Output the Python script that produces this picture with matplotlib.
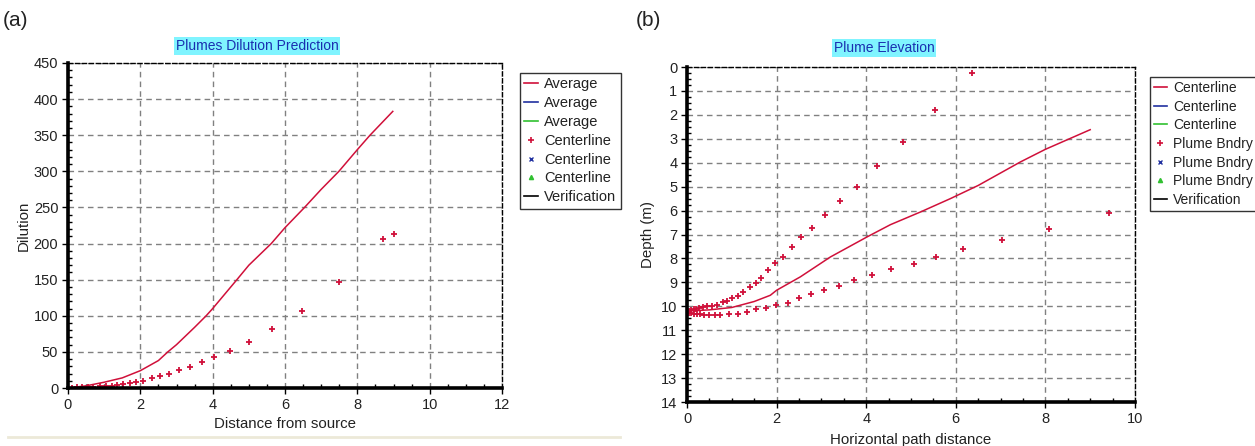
import matplotlib
matplotlib.use("Agg")
import matplotlib.pyplot as plt
from matplotlib.lines import Line2D
from matplotlib.ticker import MultipleLocator

plt.rcParams['font.family'] = ['Liberation Sans', 'DejaVu Sans']

# ---- Panel (a): dilution vs distance from source ----
dil_avg_x = [0.0, 0.5, 1.0, 1.5, 2.0, 2.5, 2.76, 3.0, 3.5, 3.82, 4.0, 4.67, 5.0,
             5.62, 6.0, 6.54, 7.0, 7.49, 8.0, 8.35, 8.98]
dil_avg_y = [0, 3, 8, 14, 24, 38, 50, 60, 84, 100, 110, 150, 170,
             200, 222, 250, 275, 300, 330, 350, 383]

dil_cl_x = [0.10, 0.25, 0.40, 0.55, 0.70, 0.88, 1.06, 1.23, 1.36, 1.53, 1.72, 1.89,
            2.07, 2.31, 2.55, 2.80, 3.06, 3.36, 3.70, 4.05, 4.49, 5.01, 5.64, 6.47,
            7.49, 8.70, 9.02]
dil_cl_y = [0.5, 0.8, 1.0, 1.3, 1.6, 2.2, 2.2, 3.2, 4.6, 6.0, 6.4, 8.3,
            10.0, 14.2, 16.0, 18.8, 24.8, 29.0, 36.3, 43.6, 51.0, 64.0, 81.4, 107.0,
            146.4, 205.7, 213.5]

# ---- Panel (b): plume elevation ----
elev_cl_x = [0.0, 0.5, 1.0, 1.5, 1.86, 2.0, 2.53, 3.2, 4.02, 4.54, 5.21, 5.88,
             6.5, 7.44, 8.0, 9.0]
elev_cl_d = [10.2, 10.15, 10.05, 9.8, 9.54, 9.33, 8.77, 7.94, 7.1, 6.59, 6.06, 5.5,
             4.95, 3.97, 3.44, 2.62]

bnd_up_x = [0.05, 0.10, 0.15, 0.20, 0.27, 0.35, 0.45, 0.56, 0.67, 0.80, 0.89, 1.00,
            1.13, 1.26, 1.41, 1.54, 1.66, 1.81, 1.96, 2.14, 2.34, 2.55, 2.80, 3.09,
            3.42, 3.79, 4.25, 4.83, 5.54, 6.37]
bnd_up_d = [10.20, 10.15, 10.12, 10.10, 10.08, 10.05, 10.00, 9.97, 9.94, 9.82, 9.78, 9.65,
            9.55, 9.40, 9.19, 9.02, 8.80, 8.50, 8.19, 7.94, 7.52, 7.10, 6.71, 6.17,
            5.60, 5.01, 4.14, 3.13, 1.81, 0.24]

bnd_lo_x = [0.05, 0.10, 0.15, 0.22, 0.30, 0.38, 0.48, 0.63, 0.74, 0.94, 1.13, 1.34,
            1.53, 1.77, 1.99, 2.25, 2.50, 2.77, 3.05, 3.39, 3.73, 4.14, 4.55, 5.06,
            5.56, 6.16, 7.03, 8.08, 9.42]
bnd_lo_d = [10.28, 10.30, 10.32, 10.33, 10.34, 10.36, 10.38, 10.38, 10.38, 10.31, 10.31, 10.24,
            10.11, 10.07, 9.94, 9.85, 9.65, 9.50, 9.30, 9.14, 8.91, 8.68, 8.44, 8.22,
            7.94, 7.62, 7.21, 6.75, 6.10]

legend_a = ["Average", "Average", "Average", "Centerline", "Centerline", "Centerline",
            "Verification"]
legend_b = ["Centerline", "Centerline", "Centerline", "Plume Bndry", "Plume Bndry",
            "Plume Bndry", "Verification"]

RED = '#d0103a'
BLUE = '#2030a0'
GREEN = '#30c030'
GRID = '#808080'
TXT = '#222222'
FS = 10.8

W, H = 1255, 446
fig = plt.figure(figsize=(W / 100, H / 100), dpi=100)
fig.patch.set_facecolor('white')


def px_axes(left, top, right, bottom):
    return fig.add_axes([left / W, 1 - bottom / H, (right - left) / W, (bottom - top) / H])


def style_axes(ax):
    ax.grid(True, which='major', color=GRID, linestyle=(0, (4, 3)), linewidth=1.0)
    ax.set_axisbelow(True)
    for s in ('left', 'bottom'):
        ax.spines[s].set_linewidth(2.6)
        ax.spines[s].set_color('black')
    for s in ('top', 'right'):
        ax.spines[s].set_linewidth(1.0)
        ax.spines[s].set_linestyle((0, (3, 2)))
        ax.spines[s].set_color('black')
    ax.tick_params(which='major', direction='out', length=4, width=1, labelsize=10.5,
                   colors='black', labelcolor=TXT, pad=3)
    ax.tick_params(which='minor', direction='in', length=3, width=1, colors='black')


def legend_handles():
    return [
        Line2D([], [], color=RED, lw=1.2),
        Line2D([], [], color=BLUE, lw=1.2),
        Line2D([], [], color=GREEN, lw=1.2),
        Line2D([], [], color=RED, lw=0, marker='+', markersize=4, mew=1.2),
        Line2D([], [], color=BLUE, lw=0, marker='x', markersize=3, mew=1.0),
        Line2D([], [], color=GREEN, lw=0, marker='^', markersize=3),
        Line2D([], [], color='black', lw=1.2),
    ]


def add_legend(labels, x_px, y_px, fs):
    leg = fig.legend(legend_handles(), labels, loc='upper left',
                     bbox_to_anchor=(x_px / W, 1 - y_px / H), frameon=True,
                     fancybox=False, edgecolor='black', fontsize=fs, handlelength=0.9,
                     handletextpad=0.45, labelspacing=0.33, borderpad=0.3,
                     borderaxespad=0)
    leg.get_frame().set_linewidth(1.0)
    for t in leg.get_texts():
        t.set_color(TXT)
    return leg


def title_box(text, x_px, y_px):
    fig.text(x_px / W, 1 - y_px / H, text, ha='center', va='center', fontsize=10,
             color='#1a2fb0',
             bbox=dict(boxstyle='square,pad=0.15', facecolor='#80f4ff', edgecolor='none'))


# Panel (a)
ax1 = px_axes(68, 63, 502, 388)
ax1.plot(dil_avg_x, dil_avg_y, color=RED, lw=1.1)
ax1.plot(dil_cl_x, dil_cl_y, color=RED, lw=0, marker='+', markersize=4.5, mew=1.3)
ax1.set_xlim(0, 12)
ax1.set_ylim(0, 450)
ax1.xaxis.set_major_locator(MultipleLocator(2))
ax1.xaxis.set_minor_locator(MultipleLocator(0.5))
ax1.yaxis.set_major_locator(MultipleLocator(50))
ax1.yaxis.set_minor_locator(MultipleLocator(10))
style_axes(ax1)
ax1.set_xlabel("Distance from source", fontsize=FS, color=TXT, labelpad=4)
ax1.set_ylabel("Dilution", fontsize=FS, color=TXT, labelpad=2)
title_box("Plumes Dilution Prediction", 257, 46)
add_legend(legend_a, 520, 73, 10.5)

# Panel (b)
ax2 = px_axes(687, 67, 1135, 402)
ax2.plot(elev_cl_x, elev_cl_d, color=RED, lw=1.1)
ax2.plot(bnd_up_x, bnd_up_d, color=RED, lw=0, marker='+', markersize=4.5, mew=1.3)
ax2.plot(bnd_lo_x, bnd_lo_d, color=RED, lw=0, marker='+', markersize=4.5, mew=1.3)
ax2.set_xlim(0, 10)
ax2.set_ylim(14, 0)
ax2.xaxis.set_major_locator(MultipleLocator(2))
ax2.xaxis.set_minor_locator(MultipleLocator(0.5))
ax2.yaxis.set_major_locator(MultipleLocator(1))
ax2.yaxis.set_minor_locator(MultipleLocator(0.25))
style_axes(ax2)
ax2.set_xlabel("Horizontal path distance", fontsize=FS, color=TXT, labelpad=5)
ax2.set_ylabel("Depth (m)", fontsize=FS, color=TXT, labelpad=4)
title_box("Plume Elevation", 884, 48)
add_legend(legend_b, 1150, 77, 10.0)

# Panel letters
fig.text(3 / W, 1 - 21 / H, "(a)", fontsize=15, color=TXT, va='center', ha='left')
fig.text(636 / W, 1 - 21 / H, "(b)", fontsize=15, color=TXT, va='center', ha='left')

# Light separator under panel (a)
fig.add_artist(Line2D([8 / W, 620 / W], [1 - 437 / H, 1 - 437 / H], color='#ece9d8',
                      lw=2, transform=fig.transFigure))

fig.savefig("out.png", dpi=100)
